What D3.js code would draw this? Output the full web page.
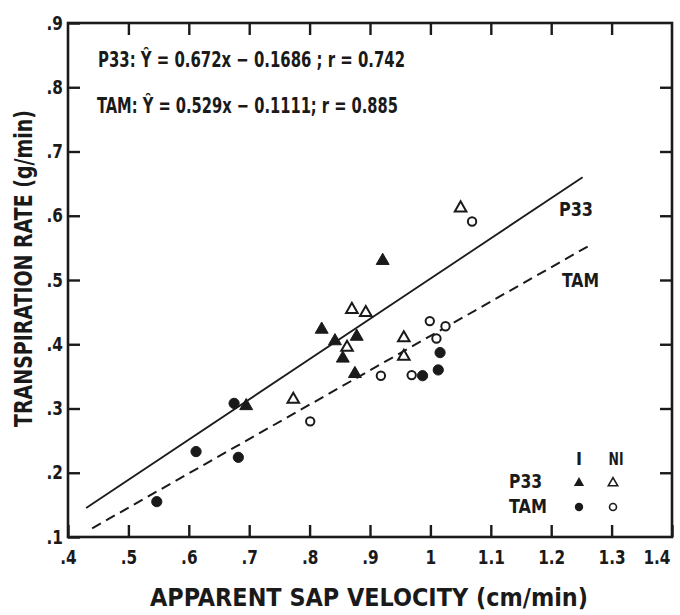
<!DOCTYPE html>
<html><head><meta charset="utf-8">
<script src="https://cdn.jsdelivr.net/npm/d3@7"></script>
<style>
html,body{margin:0;padding:0;background:#fff;}
svg text{font-family:"Liberation Sans Narrow","DejaVu Sans Condensed","Arial Narrow",sans-serif;fill:#1a1a1a;font-weight:bold;}
</style></head>
<body><svg id="c" width="680" height="615"></svg>
<script>
// ---- data ----
const p33Irrigated = [[0.921,0.530],[0.820,0.423],[0.842,0.405],[0.878,0.412],[0.855,0.378],[0.875,0.354],[0.695,0.304]];
const p33NonIrrigated = [[0.870,0.454],[0.893,0.449],[0.862,0.395],[0.956,0.410],[0.956,0.381],[0.773,0.314],[1.050,0.612]];
const tamIrrigated = [[0.987,0.351],[1.016,0.387],[1.013,0.360],[0.675,0.308],[0.612,0.233],[0.682,0.224],[0.547,0.155]];
const tamNonIrrigated = [[0.918,0.351],[0.969,0.352],[0.999,0.436],[1.025,0.428],[1.010,0.409],[0.801,0.280],[1.069,0.591]];
const p33Line = [[0.43,0.145],[1.252,0.660]];
const tamLine = [[0.44,0.1135],[1.262,0.553]];
const xTicks = [0.4,0.5,0.6,0.7,0.8,0.9,1.0,1.1,1.2,1.3,1.4];
const xTickLabels = [".4",".5",".6",".7",".8",".9","1","1.1","1.2","1.3","1.4"];
const yTicks = [0.1,0.2,0.3,0.4,0.5,0.6,0.7,0.8,0.9];
const yTickLabels = [".1",".2",".3",".4",".5",".6",".7",".8",".9"];
const equations = ["P33:  \u0176 = 0.672x \u2212 0.1686 ; r = 0.742","TAM:  \u0176 = 0.529x \u2212 0.1111;  r = 0.885"];
const xTitle = "APPARENT  SAP  VELOCITY   (cm/min)";
const yTitle = "TRANSPIRATION  RATE  (g/min)";

const svg = d3.select("#c");
const L=68, R=672, T=23, B=537;
const x = d3.scaleLinear().domain([0.4,1.4]).range([L,R]);
const y = d3.scaleLinear().domain([0.1,0.9]).range([B,T]);
const ink = "#1a1a1a";

const tickLen = 12;
const axB = d3.axisBottom(x).tickValues(xTicks).tickSize(-tickLen).tickPadding(10).tickFormat((d,i)=>xTickLabels[i]);
const axT = d3.axisTop(x).tickValues(xTicks.slice(1,-1)).tickSize(-tickLen).tickFormat("");
const axL = d3.axisLeft(y).tickValues(yTicks).tickSize(-tickLen).tickPadding(5).tickFormat((d,i)=>yTickLabels[i]);
const axR = d3.axisRight(y).tickValues(yTicks.slice(1,-1)).tickSize(-tickLen).tickFormat("");

function style(g){
  g.select(".domain").remove();
  g.selectAll(".tick line").attr("stroke",ink).attr("stroke-width",2.4);
  g.selectAll(".tick text").attr("font-size",20).attr("fill",ink);
}
const gb = svg.append("g").attr("transform",`translate(0,${B})`).call(axB).call(style);
gb.selectAll(".tick text").attr("y",13).attr("dy","0.71em").attr("textLength",function(){return this.getComputedTextLength()*0.85;}).attr("lengthAdjust","spacingAndGlyphs");
gb.selectAll(".tick").filter((d,i)=>i===xTicks.length-1).select("text").attr("text-anchor","end").attr("x",-2);
svg.append("g").attr("transform",`translate(0,${T})`).call(axT).call(style);
const gl = svg.append("g").attr("transform",`translate(${L},0)`).call(axL).call(style);
gl.selectAll(".tick text").attr("x",-5).attr("dy","0.3em").attr("textLength",function(){return this.getComputedTextLength()*0.85;}).attr("lengthAdjust","spacingAndGlyphs");
svg.append("g").attr("transform",`translate(${R},0)`).call(axR).call(style);

// frame
svg.append("rect").attr("x",L).attr("y",T).attr("width",R-L).attr("height",B-T)
  .attr("fill","none").attr("stroke",ink).attr("stroke-width",2.6);

// regression lines
const line = d3.line().x(d=>x(d[0])).y(d=>y(d[1]));
svg.append("path").attr("d",line(p33Line)).attr("fill","none").attr("stroke",ink).attr("stroke-width",1.8);
svg.append("path").attr("d",line(tamLine)).attr("fill","none").attr("stroke",ink).attr("stroke-width",2)
  .attr("stroke-dasharray","10,6");

// markers
const tri = d3.symbol().type(d3.symbolTriangle);
const cir = d3.symbol().type(d3.symbolCircle);
function marks(data, gen, size, filled){
  svg.append("g").selectAll("path").data(data).join("path")
    .attr("transform",d=>`translate(${x(d[0])},${y(d[1])})`)
    .attr("d",gen.size(size)())
    .attr("fill",filled?ink:"#fff").attr("stroke",ink).attr("stroke-width",filled?1:2);
}
marks(p33NonIrrigated, tri, 58, false);
marks(tamNonIrrigated, cir, 55, false);
marks(p33Irrigated, tri, 72, true);
marks(tamIrrigated, cir, 82, true);

// equations
const eqPos = [[98,67,307],[97,113,301]];
equations.forEach((t,i)=>{
  svg.append("text").attr("x",eqPos[i][0]).attr("y",eqPos[i][1]).attr("font-size",22)
    .attr("textLength",eqPos[i][2]).attr("lengthAdjust","spacingAndGlyphs").text(t);
});

// line labels
svg.append("text").attr("x",559).attr("y",216).attr("font-size",19).attr("textLength",34).attr("lengthAdjust","spacingAndGlyphs").text("P33");
svg.append("text").attr("x",562).attr("y",287).attr("font-size",19).attr("textLength",37).attr("lengthAdjust","spacingAndGlyphs").text("TAM");

// legend
svg.append("text").attr("x",579).attr("y",465).attr("font-size",18).attr("text-anchor","middle").text("I");
svg.append("text").attr("x",616).attr("y",465).attr("font-size",18).attr("text-anchor","middle").attr("textLength",15).attr("lengthAdjust","spacingAndGlyphs").text("NI");
svg.append("text").attr("x",509).attr("y",488).attr("font-size",19).attr("textLength",33).attr("lengthAdjust","spacingAndGlyphs").text("P33");
svg.append("text").attr("x",509).attr("y",513).attr("font-size",19).attr("textLength",38).attr("lengthAdjust","spacingAndGlyphs").text("TAM");
const lg = svg.append("g");
lg.append("path").attr("transform","translate(579,483)").attr("d",tri.size(45)()).attr("fill",ink);
lg.append("path").attr("transform","translate(613,483)").attr("d",tri.size(38)()).attr("fill","#fff").attr("stroke",ink).attr("stroke-width",1.6);
lg.append("path").attr("transform","translate(579,507)").attr("d",cir.size(55)()).attr("fill",ink);
lg.append("path").attr("transform","translate(613,507)").attr("d",cir.size(38)()).attr("fill","#fff").attr("stroke",ink).attr("stroke-width",1.6);

// axis titles
svg.append("text").attr("x",150).attr("y",606).attr("font-size",25)
  .attr("textLength",438).attr("lengthAdjust","spacingAndGlyphs").text(xTitle);
svg.append("text").attr("transform","translate(32,427) rotate(-90)").attr("font-size",24)
  .attr("textLength",317).attr("lengthAdjust","spacingAndGlyphs").text(yTitle);
</script></body></html>
